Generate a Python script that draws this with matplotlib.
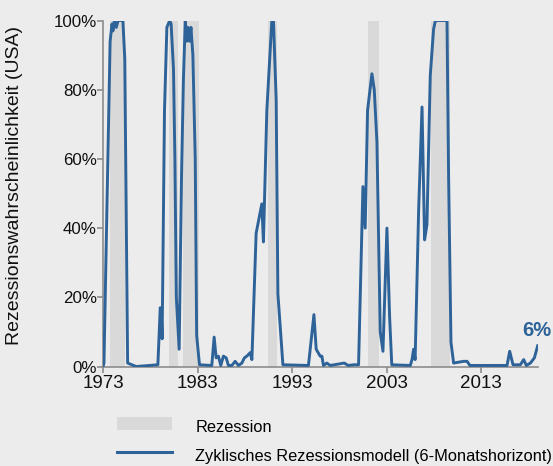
import matplotlib.pyplot as plt
from matplotlib.patches import Patch
from matplotlib.lines import Line2D
from matplotlib.ticker import FuncFormatter

plt.rcParams['font.family'] = ['Liberation Sans', 'DejaVu Sans']

# Rezessionsphasen (Dezimaljahr Beginn / Ende)
rez_start = [1973.72, 1979.98, 1981.5, 1990.45, 2001.0, 2007.69]
rez_ende = [1975.36, 1980.88, 1983.17, 1991.38, 2002.13, 2009.7]

# Rezessionswahrscheinlichkeit in %
jahr = [1973.0, 1973.1, 1973.75, 1973.95, 1974.05, 1974.2, 1974.4, 1974.6, 1975.1, 1975.3, 1975.6,
        1976.5, 1978.8, 1979.05, 1979.15, 1979.25, 1979.5, 1979.75, 1980.05, 1980.2, 1980.45,
        1980.6, 1980.75, 1981.05, 1981.3, 1981.5, 1981.7, 1981.85, 1982.0, 1982.15, 1982.3,
        1982.5, 1982.75, 1982.9, 1983.2,
        1984.5, 1984.75, 1984.96, 1985.2, 1985.45, 1985.73, 1986.02, 1986.26, 1986.62, 1986.97,
        1987.32, 1987.68, 1987.95, 1988.21, 1988.56, 1988.74,
        1989.19, 1989.79, 1989.96, 1990.32, 1990.85, 1991.02, 1991.31, 1991.49, 1992.02,
        1994.72, 1995.3, 1995.54, 1995.96, 1996.14, 1996.31, 1996.67, 1997.02, 1998.5, 1998.93,
        1999.5, 2000.02,
        2000.48, 2000.72, 2000.97, 2001.43, 2001.68, 2001.96, 2002.31, 2002.6, 2003.02, 2003.3,
        2003.53,
        2005.49, 2005.67, 2005.84, 2006.0, 2006.37, 2006.73, 2007.0, 2007.25, 2007.6, 2007.95,
        2008.15, 2008.31, 2009.37, 2009.54, 2009.79, 2010.07,
        2011.13, 2011.49, 2011.8, 2015.72, 2016.0, 2016.35, 2017.13, 2017.48, 2017.76, 2018.19,
        2018.61, 2018.96]
prob = [0, 1, 94, 99, 97, 100, 98, 100, 100, 89, 1,
        0, 0.5, 17, 16, 8, 74, 98, 100, 99, 86,
        60, 20, 5, 55, 83, 100, 94, 98, 94, 98,
        90, 60, 9, 0.5,
        0.3, 8.5, 2.5, 3, 0.3, 3, 2.5, 0.3, 0.3, 1.5,
        0.3, 1, 2.5, 3, 4, 2,
        38.5, 47, 36, 74, 100, 100, 77, 21, 0.5,
        0.3, 15, 5, 3, 3, 0.3, 1, 0.3, 1, 0.3,
        0.5, 0.5,
        52, 40, 74, 84.6, 80, 65, 10, 4.4, 40, 14.5,
        0.5,
        0.3, 2, 5, 2, 45, 75, 36.6, 41, 84, 97.5,
        100, 100, 100, 55, 7, 1,
        1.5, 1.5, 0.3, 0.3, 4.4, 0.5, 0.5, 2, 0.3, 1,
        2.5, 6]

x_ticks = [1973, 1983, 1993, 2003, 2013]

blau = '#2e6399'
grau_rez = '#d9d9d9'
bg = '#ececec'

fig = plt.figure(figsize=(5.53, 4.66), dpi=100, facecolor=bg)
ax = fig.add_axes([0.1863, 0.2135, 0.7867, 0.7425], facecolor=bg)

for s, e in zip(rez_start, rez_ende):
    ax.axvspan(s, e, ymin=0, ymax=1, color=grau_rez, lw=0, zorder=1)

ax.plot(jahr, prob, color=blau, lw=2.1, zorder=3, solid_joinstyle='round')

ax.set_xlim(1973, 2019)
ax.set_ylim(0, 100)
ax.set_xticks(x_ticks)
ax.set_yticks(range(0, 101, 20))
ax.yaxis.set_major_formatter(FuncFormatter(lambda v, p: f'{v:.0f}%'))

for side in ['top', 'right']:
    ax.spines[side].set_visible(False)
for side in ['left', 'bottom']:
    ax.spines[side].set_color('#8c8c8c')
    ax.spines[side].set_linewidth(1.2)
ax.tick_params(axis='both', colors='#8c8c8c', width=1.2, labelcolor='#111111')
ax.tick_params(axis='x', length=4.3, labelsize=13.5, pad=2)
ax.tick_params(axis='y', length=4.0, labelsize=12.2, pad=0.5)

# Endwert beschriften
ax.annotate(f'{prob[-1]:.0f}%', xy=(jahr[-1], prob[-1]), xytext=(-0.5, 4),
            textcoords='offset points', ha='center', va='bottom',
            color=blau, fontsize=14.5, fontweight='bold', annotation_clip=False)

fig.text(0.026, 0.603, 'Rezessionswahrscheinlichkeit (USA)', rotation=90,
         ha='center', va='center', fontsize=14, color='#111111')

handles = [Patch(facecolor=grau_rez, edgecolor='none'),
           Line2D([0], [0], color=blau, lw=2.2)]
labels = ['Rezession', 'Zyklisches Rezessionsmodell (6-Monatshorizont)']
leg = fig.legend(handles, labels, loc='upper left', bbox_to_anchor=(0.211, 0.105),
                 bbox_transform=fig.transFigure, frameon=False, fontsize=11.8,
                 handlelength=3.4, handleheight=0.85, handletextpad=1.4,
                 labelspacing=0.85, borderaxespad=0, borderpad=0)
# Beschriftung etwas unter die Symbole setzen
for t in leg.get_texts():
    t.set_y(-3)

fig.savefig('out.png', dpi=100, facecolor=bg)
